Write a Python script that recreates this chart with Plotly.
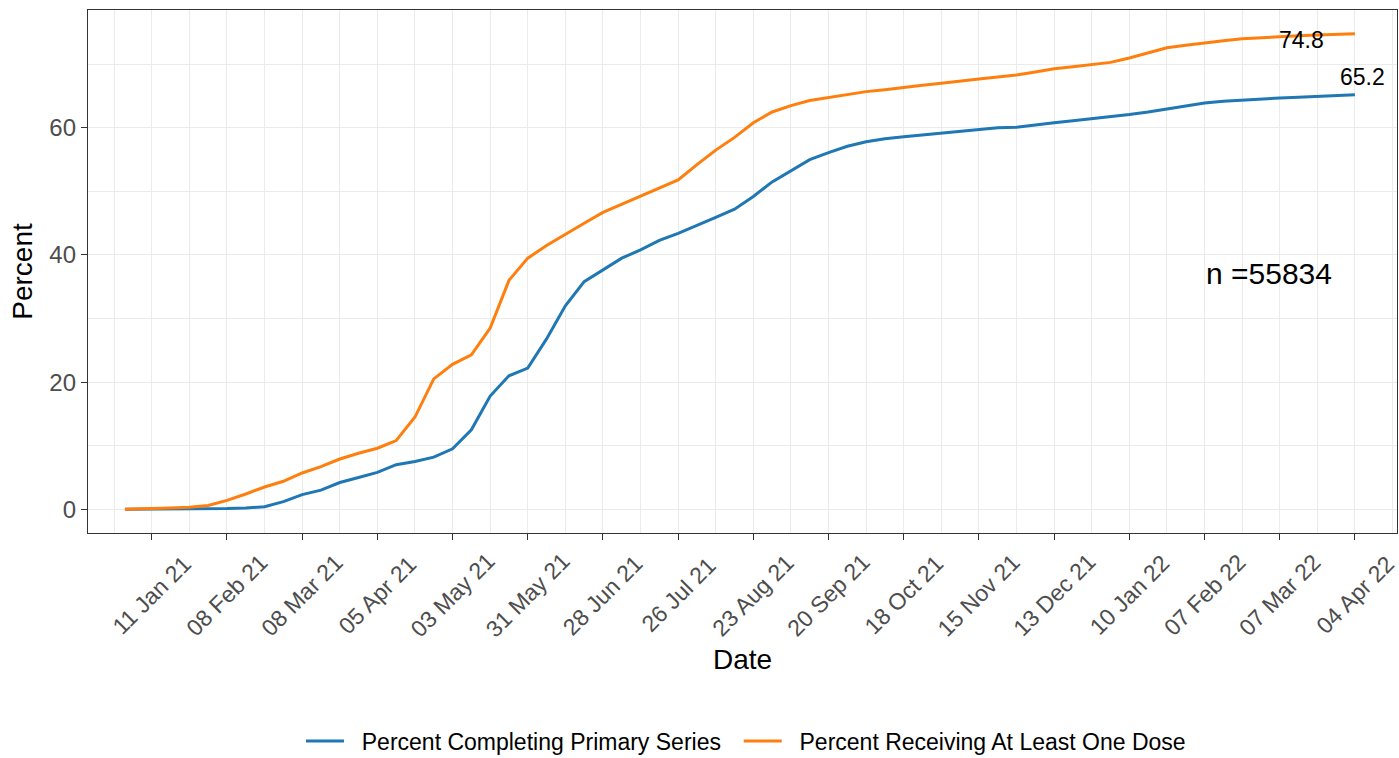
# -*- coding: utf-8 -*-

import pandas as pd
from plotly.graph_objects import Figure, Scatter


##################################################
# data
##################################################

# first day of the series, then every Monday up to 04 Apr 22
dates = ['2021-01-01'] + [d.strftime('%Y-%m-%d') for d in pd.date_range('2021-01-04', '2022-04-04', freq='7D')]

one_dose = [
    0.0, 0.0, 0.1, 0.2, 0.3, 0.6, 1.4, 2.4, 3.5, 4.4, 5.7, 6.7, 7.9, 8.8, 9.6,
    10.8, 14.5, 20.5, 22.8, 24.3, 28.5, 36.0, 39.5, 41.5, 43.3, 45.0, 46.7,
    48.0, 49.2, 50.5, 51.8, 54.2, 56.5, 58.5, 60.8, 62.5, 63.5, 64.3, 64.8,
    65.3, 65.7, 66.0, 66.4, 66.7, 67.0, 67.4, 67.7, 68.0, 68.3, 68.8, 69.3,
    69.6, 69.9, 70.3, 71.0, 71.8, 72.6, 73.0, 73.4, 73.7, 74.0, 74.2, 74.4,
    74.5, 74.6, 74.7, 74.8,
]

primary_series = [
    0.0, 0.0, 0.0, 0.0, 0.05, 0.1, 0.1, 0.2, 0.4, 1.2, 2.3, 3.0, 4.2, 5.0, 5.8,
    7.0, 7.5, 8.2, 9.5, 12.5, 17.8, 21.0, 22.2, 26.8, 32.0, 35.8, 37.6,
    39.5, 40.8, 42.3, 43.4, 44.6, 45.9, 47.2, 49.2, 51.5, 53.3, 55.0, 56.1,
    57.1, 57.8, 58.3, 58.6, 58.9, 59.2, 59.5, 59.7, 60.0, 60.1, 60.5, 60.8,
    61.1, 61.4, 61.7, 62.1, 62.5, 63.0, 63.4, 63.9, 64.2, 64.4, 64.6, 64.7,
    64.8, 64.9, 65.1, 65.2,
]

series_names = ['Percent Completing Primary Series', 'Percent Receiving At Least One Dose']
series_colors = ['#1F77B4', '#FF7F0E']

# x tick labels every 4 weeks
tick_dates = pd.date_range('2021-01-11', '2022-04-04', freq='28D')
tick_labels = [d.strftime('%d %b %y') for d in tick_dates]

end_labels = ['74.8', '65.2']
n_label = 'n =55834'

DAY_MS = 86400000
NBSP = '\u00a0'
grid_color = '#EBEBEB'
axis_color = '#333333'
tick_color = '#4D4D4D'
font_family = 'Liberation Sans, Arial, sans-serif'


##################################################
# figure
##################################################

data = []
for name, values, color in zip(series_names, [primary_series, one_dose], series_colors):
    data.append(
        Scatter(
            x=dates,
            y=values,
            # a little extra room around the legend text, as in ggplot
            name=NBSP * 2 + name + NBSP * 2,
            mode='lines',
            line={'color': color, 'width': 3},
        )
    )

fig = Figure(data=data)

# rotated tick labels, centred under each tick like the ggplot original
for d, label in zip(tick_dates, tick_labels):
    fig.add_annotation(x=d.strftime('%Y-%m-%d'), y=-0.1185, xref='x', yref='paper',
                       text=label, textangle=-45, showarrow=False,
                       xanchor='center', yanchor='middle',
                       font={'size': 23, 'color': tick_color})

# value labels near the end of each line and the sample size
fig.add_annotation(x='2022-03-15', y=73.8, text=end_labels[0], showarrow=False,
                   font={'size': 23, 'color': 'black'})
fig.add_annotation(x='2022-04-07', y=68.0, text=end_labels[1], showarrow=False,
                   font={'size': 23, 'color': 'black'})
fig.add_annotation(x='2022-03-03', y=37.1, text=n_label, showarrow=False,
                   font={'size': 30, 'color': 'black'})

fig.update_layout(
    width=1399,
    height=758,
    margin={'l': 88, 'r': 2, 't': 10, 'b': 225, 'autoexpand': False},
    plot_bgcolor='white',
    paper_bgcolor='white',
    font={'family': font_family, 'color': 'black'},
    legend={
        'orientation': 'h',
        'x': 0.1627,
        'xanchor': 'left',
        'y': -0.398,
        'yanchor': 'middle',
        'font': {'size': 23},
        'itemwidth': 38,
    },
)

fig.update_xaxes(
    type='date',
    automargin=False,
    range=['2020-12-18 06:00', '2022-04-19 16:00'],
    tick0='2021-01-11',
    dtick=28 * DAY_MS,
    showticklabels=False,
    ticks='outside',
    ticklen=6,
    tickcolor=axis_color,
    showgrid=True,
    gridcolor=grid_color,
    gridwidth=1.2,
    minor={'tick0': '2021-01-11', 'dtick': 14 * DAY_MS, 'showgrid': True,
           'gridcolor': grid_color, 'gridwidth': 0.6},
    showline=True,
    linecolor=axis_color,
    linewidth=1.3,
    mirror=True,
    zeroline=False,
    title={'text': 'Date', 'font': {'size': 28, 'color': 'black'}, 'standoff': 110},
)

fig.update_yaxes(
    automargin=False,
    range=[-3.74, 78.54],
    tickvals=[0, 20, 40, 60],
    ticks='outside',
    ticklen=6,
    tickcolor=axis_color,
    tickfont={'size': 24, 'color': tick_color},
    showgrid=True,
    gridcolor=grid_color,
    gridwidth=1.2,
    minor={'tickvals': [10, 30, 50, 70], 'showgrid': True,
           'gridcolor': grid_color, 'gridwidth': 0.6},
    showline=True,
    linecolor=axis_color,
    linewidth=1.3,
    mirror=True,
    zeroline=False,
    title={'text': 'Percent', 'font': {'size': 28, 'color': 'black'}, 'standoff': 8},
)

fig.write_html(
    'out.html',
    config={'displayModeBar': False},
    post_script="document.body.style.margin='0';document.body.style.overflow='hidden';",
)
